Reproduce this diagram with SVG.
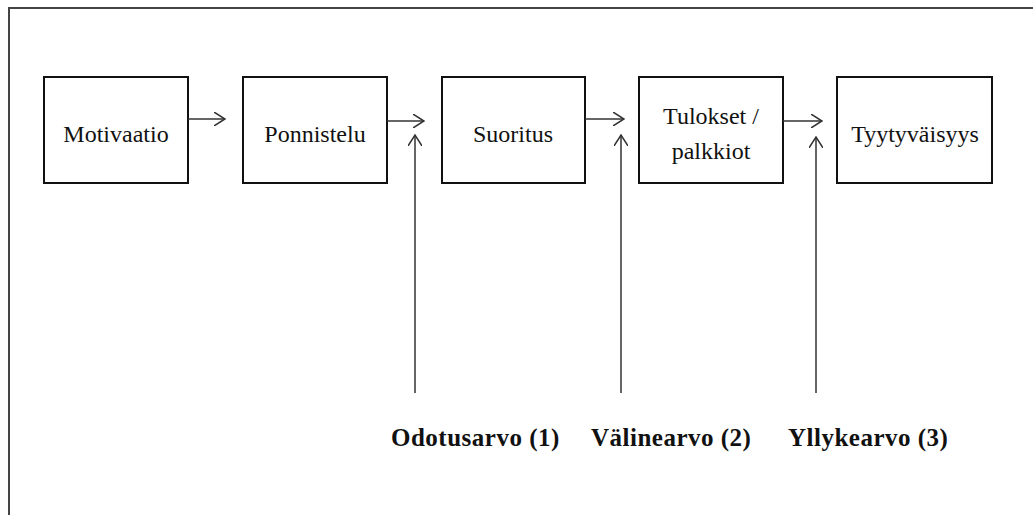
<svg xmlns="http://www.w3.org/2000/svg" width="1033" height="515" viewBox="0 0 1033 515">
  <style>
    .frame { fill: none; stroke: #444; stroke-width: 2; }
    .box { fill: #fff; stroke: #111; stroke-width: 2; }
    .lbl { font-family: "Liberation Serif", "Times New Roman", serif; font-size: 24px; fill: #111; text-anchor: middle; }
    .val { font-family: "Liberation Serif", "Times New Roman", serif; font-size: 25px; font-weight: bold; fill: #111; letter-spacing: 0.5px; }
    .conn { fill: none; stroke: #333; stroke-width: 1.5; }
  </style>
  <defs>
    <marker id="open" viewBox="0 0 12 14" refX="11" refY="7" markerWidth="12" markerHeight="14" markerUnits="userSpaceOnUse" orient="auto">
      <path d="M0,0 L11,7 L0,14" fill="none" stroke="#333" stroke-width="1.5"/>
    </marker>
  </defs>

  <!-- page frame -->
  <rect class="frame" x="9" y="8" width="1040" height="520"/>

  <g id="motivaatio">
    <rect class="box" x="44" y="77" width="144" height="106"/>
    <text class="lbl" x="116" y="142">Motivaatio</text>
  </g>
  <g id="ponnistelu">
    <rect class="box" x="243" y="77" width="144" height="106"/>
    <text class="lbl" x="315" y="142">Ponnistelu</text>
  </g>
  <g id="suoritus">
    <rect class="box" x="442" y="77" width="143" height="106"/>
    <text class="lbl" x="513" y="142">Suoritus</text>
  </g>
  <g id="tulokset">
    <rect class="box" x="639" y="77" width="144" height="106"/>
    <text class="lbl" x="711" y="124">Tulokset /</text>
    <text class="lbl" x="711" y="159">palkkiot</text>
  </g>
  <g id="tyytyvaisyys">
    <rect class="box" x="837" y="77" width="155" height="106"/>
    <text class="lbl" x="915" y="142">Tyytyväisyys</text>
  </g>

  <g id="connectors">
    <line class="conn" x1="188" y1="119" x2="225" y2="119" marker-end="url(#open)"/>
    <line class="conn" x1="387" y1="121" x2="424" y2="121" marker-end="url(#open)"/>
    <line class="conn" x1="585" y1="119" x2="624" y2="119" marker-end="url(#open)"/>
    <line class="conn" x1="783" y1="121" x2="822" y2="121" marker-end="url(#open)"/>
    <line class="conn" x1="415" y1="393" x2="415" y2="135" marker-end="url(#open)"/>
    <line class="conn" x1="621" y1="393" x2="621" y2="135" marker-end="url(#open)"/>
    <line class="conn" x1="816" y1="393" x2="816" y2="137" marker-end="url(#open)"/>
  </g>

  <g id="values">
    <text class="val" x="391" y="446">Odotusarvo (1)</text>
    <text class="val" x="591" y="446">Välinearvo (2)</text>
    <text class="val" x="788" y="446">Yllykearvo (3)</text>
  </g>
</svg>
